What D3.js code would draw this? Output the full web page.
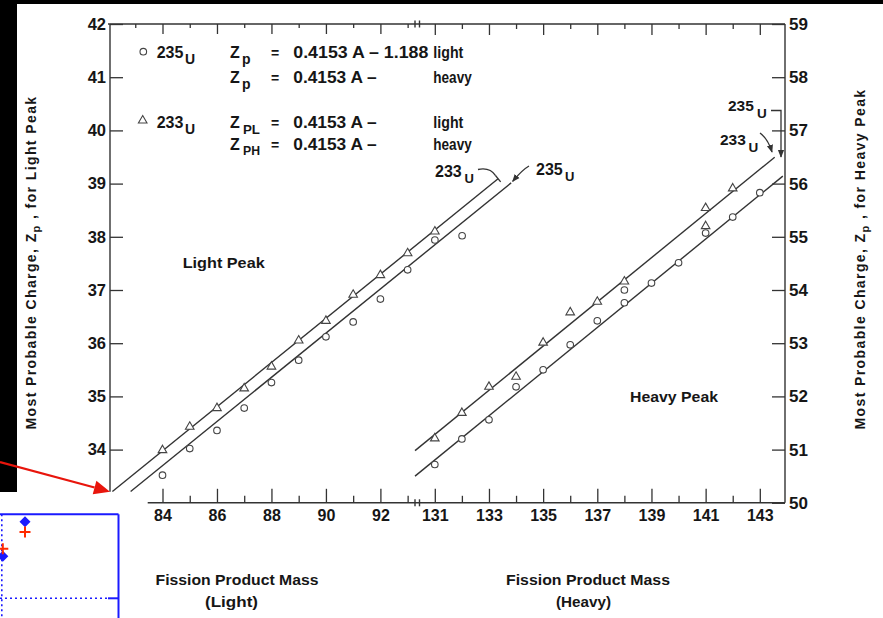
<!DOCTYPE html>
<html>
<head>
<meta charset="utf-8">
<script src="https://cdn.jsdelivr.net/npm/d3@7"></script>
<style>
  html, body { margin: 0; padding: 0; background: #fff; }
  svg { display: block; font-family: "Liberation Sans", Arial, Helvetica, sans-serif; }
</style>
</head>
<body>
<svg id="chart" width="883" height="618"></svg>
<script>
// Most probable charge Zp versus fission-product mass A
// Light peak, 233U (triangles) and 235U (circles)
const lightMass233 = [84, 85, 86, 87, 88, 89, 90, 91, 92, 93, 94];
const lightZ233    = [33.99, 34.43, 34.78, 35.15, 35.56, 36.05, 36.42, 36.91, 37.28, 37.69, 38.10];
const lightMass235 = [84, 85, 86, 87, 88, 89, 90, 91, 92, 93, 94, 95];
const lightZ235    = [33.52, 34.02, 34.36, 34.78, 35.26, 35.68, 36.12, 36.40, 36.83, 37.38, 37.94, 38.02];

// Heavy peak, 233U (triangles) and 235U (circles)
const heavyMass233 = [131, 132, 133, 134, 135, 136, 137, 138, 141, 141, 142];
const heavyZ233    = [51.21, 51.69, 52.18, 52.37, 53.01, 53.58, 53.78, 54.16, 55.54, 55.20, 55.91];
const heavyMass235 = [131, 132, 133, 134, 135, 136, 137, 138, 138, 139, 140, 141, 142, 143];
const heavyZ235    = [50.72, 51.20, 51.56, 52.18, 52.50, 52.97, 53.42, 53.76, 54.00, 54.13, 54.51, 55.07, 55.37, 55.83];

// Fitted lines Zp = fitSlope * A - offset
const fitSlope   = 0.4153;
const fitPeak    = ["light", "light", "heavy", "heavy"];
const fitOffsets = [0.91, 1.188, 3.12, 3.60];
const fitFromA   = [82.16, 82.83, 130.27, 130.27];
const fitToA     = [96.32, 96.80, 143.55, 143.85];

// Axis ticks
const lightMajorTicks = [84, 86, 88, 90, 92];
const lightMinorTicks = [85, 87, 89, 91, 93];
const lightTopMinor   = [83, 85, 87, 89, 91, 93];
const heavyMajorTicks = [131, 133, 135, 137, 139, 141, 143];
const heavyMinorTicks = [132, 134, 136, 138, 140, 142];
const leftTicks  = [34, 35, 36, 37, 38, 39, 40, 41, 42];
const rightTicks = [50, 51, 52, 53, 54, 55, 56, 57, 58, 59];

// Small blue/red panel in the lower-left corner
const insetDiamondX = [1, 0];
const insetDiamondY = [0.91, 0.50];
const insetCrossX   = [1, 0];
const insetCrossY   = [0.79, 0.59];

const ink = "#161616";
const lineInk = "#333";
const FONT = '"Liberation Sans", Arial, Helvetica, sans-serif';

const svg = d3.select("#chart");
svg.append("rect").attr("width", 883).attr("height", 618).attr("fill", "#fff");

const defs = svg.append("defs");
defs.append("marker").attr("id", "head")
  .attr("viewBox", "0 0 10 10").attr("refX", 9).attr("refY", 5)
  .attr("markerWidth", 6).attr("markerHeight", 6).attr("orient", "auto")
  .append("path").attr("d", "M0,1 L10,5 L0,9 Z").attr("fill", lineInk);

const xLight = d3.scaleLinear().domain([84, 92]).range([162.5, 380.4]);
const xHeavy = d3.scaleLinear().domain([131, 143]).range([434.8, 759.8]);
const yLight = d3.scaleLinear().domain([33, 42]).range([502.8, 24]);
const yHeavy = d3.scaleLinear().domain([50, 59]).range([502.8, 24]);

const frameLeft = 110, frameRight = 785;
const frameTop = yLight(42), frameBottom = yLight(33);
const leftFloor = yLight(33.21);
const bottomStart = 147.7, breakA = 415, breakB = 419.5;

// ---- frame lines
const frame = svg.append("g").attr("stroke", lineInk).attr("stroke-width", 1.4).attr("fill", "none");
frame.append("line").attr("x1", frameLeft).attr("x2", frameLeft).attr("y1", frameTop).attr("y2", leftFloor);
frame.append("line").attr("x1", frameLeft - 2).attr("x2", frameRight).attr("y1", frameTop).attr("y2", frameTop);
frame.append("line").attr("x1", frameRight).attr("x2", frameRight).attr("y1", frameTop).attr("y2", frameBottom);
frame.append("line").attr("x1", bottomStart).attr("x2", frameRight).attr("y1", frameBottom).attr("y2", frameBottom);
// axis break marks
[frameTop, frameBottom].forEach(y => {
  [breakA, breakB].forEach(x => {
    frame.append("line").attr("x1", x).attr("x2", x).attr("y1", y - 3.5).attr("y2", y + 3.5);
  });
});

function styleAxis(g, fontSize) {
  g.select(".domain").remove();
  g.attr("font-family", null).attr("font-size", null);
  g.selectAll("line").attr("stroke", lineInk).attr("stroke-width", 1.3);
  g.selectAll("text").attr("fill", ink).attr("font-family", FONT)
    .attr("font-size", fontSize).attr("font-weight", "bold");
  return g;
}

function bottomTicks(scale, values, y, size, labelled) {
  const ax = d3.axisBottom(scale).tickValues(values).tickSizeInner(size).tickSizeOuter(0).tickPadding(7);
  if (!labelled) ax.tickFormat("");
  return styleAxis(svg.append("g").attr("transform", `translate(0,${y})`).call(ax), 16);
}

// bottom axis (ticks point up into the plot)
bottomTicks(xLight, lightMajorTicks, frameBottom, -14, true);
bottomTicks(xLight, lightMinorTicks, frameBottom, -7, false);
bottomTicks(xHeavy, heavyMajorTicks, frameBottom, -14, true);
bottomTicks(xHeavy, heavyMinorTicks, frameBottom, -7, false);
// top axis (ticks point down)
bottomTicks(xLight, lightMajorTicks, frameTop, 10, false);
bottomTicks(xLight, lightTopMinor, frameTop, 4, false);
bottomTicks(xHeavy, heavyMajorTicks, frameTop, 11, false);
bottomTicks(xHeavy, heavyMinorTicks, frameTop, 5, false);

// left axis: ticks inward, labels outside
styleAxis(svg.append("g").attr("transform", `translate(${frameLeft},0)`)
  .call(d3.axisRight(yLight).tickValues(leftTicks).tickSizeInner(13).tickSizeOuter(0).tickFormat("")), 16);
styleAxis(svg.append("g").attr("transform", `translate(${frameLeft},0)`)
  .call(d3.axisLeft(yLight).tickValues(leftTicks).tickSize(0).tickPadding(4)), 16.5);

// right axis
styleAxis(svg.append("g").attr("transform", `translate(${frameRight},0)`)
  .call(d3.axisLeft(yHeavy).tickValues(rightTicks).tickSizeInner(13).tickSizeOuter(0).tickFormat("")), 16);
styleAxis(svg.append("g").attr("transform", `translate(${frameRight},0)`)
  .call(d3.axisRight(yHeavy).tickValues(rightTicks).tickSize(0).tickPadding(4)), 17);

// ---- fitted lines
const fitG = svg.append("g").attr("stroke", lineInk).attr("stroke-width", 1.4).attr("fill", "none");
fitOffsets.forEach((off, i) => {
  const xs = fitPeak[i] === "light" ? xLight : xHeavy;
  const ys = fitPeak[i] === "light" ? yLight : yHeavy;
  const line = d3.line().x(a => xs(a)).y(a => ys(fitSlope * a - off));
  fitG.append("path").attr("d", line([fitFromA[i], fitToA[i]]));
});

// ---- data points
const tri = d3.symbol(d3.symbolTriangle, 32);
function drawCircles(mass, z, xs, ys) {
  svg.append("g").selectAll("circle").data(d3.zip(mass, z)).join("circle")
    .attr("cx", d => xs(d[0])).attr("cy", d => ys(d[1])).attr("r", 3.3)
    .attr("fill", "#fff").attr("stroke", "#444").attr("stroke-width", 1.1);
}
function drawTriangles(mass, z, xs, ys) {
  svg.append("g").selectAll("path").data(d3.zip(mass, z)).join("path")
    .attr("d", tri).attr("transform", d => `translate(${xs(d[0])},${ys(d[1])})`)
    .attr("fill", "#fff").attr("stroke", "#444").attr("stroke-width", 1.1);
}
drawCircles(lightMass235, lightZ235, xLight, yLight);
drawTriangles(lightMass233, lightZ233, xLight, yLight);
drawCircles(heavyMass235, heavyZ235, xHeavy, yHeavy);
drawTriangles(heavyMass233, heavyZ233, xHeavy, yHeavy);

// ---- text helpers
function txt(x, y, s, size, opts = {}) {
  const t = svg.append("text").attr("x", x).attr("y", y).text(s)
    .attr("font-size", size).attr("font-weight", "bold").attr("fill", ink).attr("font-family", FONT);
  if (opts.anchor) t.attr("text-anchor", opts.anchor);
  if (opts.ls) t.attr("letter-spacing", opts.ls);
  if (opts.len) t.attr("textLength", opts.len).attr("lengthAdjust", "spacingAndGlyphs");
  return t;
}

// ---- legend
svg.append("circle").attr("cx", 143.3).attr("cy", 51.7).attr("r", 3.3)
  .attr("fill", "#fff").attr("stroke", "#444").attr("stroke-width", 1.1);
svg.append("path").attr("d", tri).attr("transform", "translate(142.7,120.5)")
  .attr("fill", "#fff").attr("stroke", "#444").attr("stroke-width", 1.1);

txt(156.7, 58.3, "235", 16);  txt(185, 63.8, "U", 14);
txt(156.7, 128.3, "233", 16); txt(185, 133.8, "U", 14);

const rows = [
  { y: 58.3,  sub: "p",  rhs: "0.4153 A \u2013 1.188", rhsLen: 135, tag: "light", tagLen: 30 },
  { y: 83.3,  sub: "p",  rhs: "0.4153 A \u2013",       rhsLen: 83.4, tag: "heavy", tagLen: 38.4 },
  { y: 128.3, sub: "PL", rhs: "0.4153 A \u2013",       rhsLen: 83.4, tag: "light", tagLen: 30 },
  { y: 150,   sub: "PH", rhs: "0.4153 A \u2013",       rhsLen: 83.4, tag: "heavy", tagLen: 38.4 }
];
rows.forEach(r => {
  txt(230, r.y, "Z", 16);
  if (r.sub === "p") txt(242, r.y + 5.2, "p", 14);
  else txt(243, r.y + 5.2, r.sub, 13, { len: 17 });
  txt(275, r.y, "=", 14, { anchor: "middle" });
  txt(293.3, r.y, r.rhs, 16, { len: r.rhsLen });
  txt(433.3, r.y, r.tag, 16, { len: r.tagLen });
});

// ---- peak labels
txt(182.7, 268, "Light Peak", 15, { len: 82 });
txt(630, 402, "Heavy Peak", 15, { len: 88 });

// ---- x-axis titles
txt(237, 585, "Fission Product Mass", 15.5, { anchor: "middle", len: 163 });
txt(231.5, 607, "(Light)", 15.5, { anchor: "middle", len: 53 });
txt(588, 585, "Fission Product Mass", 15.5, { anchor: "middle", len: 164 });
txt(583.5, 607, "(Heavy)", 15.5, { anchor: "middle", len: 55 });

// ---- y-axis titles (rotated)
function vTitle(cx, cy, tail, len) {
  const t = svg.append("text").attr("transform", `translate(${cx},${cy}) rotate(-90)`)
    .attr("text-anchor", "middle").attr("font-size", 14).attr("font-weight", "bold")
    .attr("fill", ink).attr("font-family", FONT).attr("letter-spacing", 1.4);
  t.append("tspan").text("Most Probable Charge, Z");
  t.append("tspan").attr("dy", 4).attr("font-size", 11).text("p");
  t.append("tspan").attr("dy", -4).text(" , " + tail);
  return t;
}
vTitle(36, 262.5, "for Light Peak");
vTitle(865, 259, "for Heavy Peak");

// ---- line-end annotations
const ann = svg.append("g").attr("stroke", lineInk).attr("stroke-width", 1.3).attr("fill", "none");
// light 233U
const lEnd233 = [xLight(fitToA[0]), yLight(fitSlope * fitToA[0] - fitOffsets[0])];
txt(435, 176.7, "233", 16); txt(464.5, 183.3, "U", 13);
ann.append("path").attr("d", `M478,169.5 Q490,167 ${lEnd233[0] - 2.5},${lEnd233[1] - 3}`);
ann.append("line").attr("x1", lEnd233[0] - 2.6).attr("y1", lEnd233[1] - 3.2)
  .attr("x2", lEnd233[0] + 2.6).attr("y2", lEnd233[1] + 3.2);
// light 235U
const lEnd235 = [xLight(fitToA[1]), yLight(fitSlope * fitToA[1] - fitOffsets[1])];
txt(536, 174.5, "235", 16); txt(565, 180.5, "U", 13);
ann.append("path").attr("d", `M529,166 Q522,170 ${lEnd235[0] + 1.5},${lEnd235[1] - 1.5}`)
  .attr("marker-end", "url(#head)");
// heavy 235U
txt(728, 110.7, "235", 15.5); txt(757, 118, "U", 13.5);
ann.append("path").attr("d", "M771,110.5 H781 V157").attr("marker-end", "url(#head)");
// heavy 233U
txt(720, 145, "233", 15.5); txt(748.5, 151.7, "U", 13.5);
ann.append("path").attr("d", "M760,133 Q768,139 772,152").attr("marker-end", "url(#head)");

// ---- surrounding dark margins
svg.append("rect").attr("x", 0).attr("y", 0).attr("width", 883).attr("height", 4).attr("fill", "#000");
svg.append("rect").attr("x", 0).attr("y", 0).attr("width", 17).attr("height", 492).attr("fill", "#000");

// ---- small inset panel (bottom-left corner)
const insetX = d3.scaleLinear().domain([0, 1]).range([2.8, 25]);
const insetY = d3.scaleLinear().domain([0, 1]).range([598.3, 514.3]);
const blue = "#1a1aff", red = "#ff2a00";
const inset = svg.append("g");
inset.append("line").attr("x1", 0).attr("x2", 118.5).attr("y1", insetY(1)).attr("y2", insetY(1))
  .attr("stroke", blue).attr("stroke-width", 2);
inset.append("line").attr("x1", 118.5).attr("x2", 118.5).attr("y1", insetY(1)).attr("y2", 618)
  .attr("stroke", blue).attr("stroke-width", 2);
inset.append("line").attr("x1", 1.8).attr("x2", 1.8).attr("y1", insetY(1)).attr("y2", 618)
  .attr("stroke", blue).attr("stroke-width", 1.6).attr("stroke-dasharray", "2,3");
inset.append("line").attr("x1", 0).attr("x2", 108).attr("y1", insetY(0)).attr("y2", insetY(0))
  .attr("stroke", blue).attr("stroke-width", 1.6).attr("stroke-dasharray", "2,3");
inset.append("line").attr("x1", 108).attr("x2", 118.5).attr("y1", insetY(0)).attr("y2", insetY(0))
  .attr("stroke", blue).attr("stroke-width", 2);
inset.selectAll("path.dia").data(d3.zip(insetDiamondX, insetDiamondY)).join("path")
  .attr("class", "dia").attr("d", "M0,-5.5L5.5,0L0,5.5L-5.5,0Z")
  .attr("transform", d => `translate(${insetX(d[0])},${insetY(d[1])})`).attr("fill", blue);
inset.selectAll("path.crs").data(d3.zip(insetCrossX, insetCrossY)).join("path")
  .attr("class", "crs").attr("d", "M-5.5,0H5.5M0,-5.5V5.5")
  .attr("transform", d => `translate(${insetX(d[0])},${insetY(d[1])})`)
  .attr("stroke", red).attr("stroke-width", 2).attr("fill", "none");

// ---- red pointer to the axis origin
const tip = [frameLeft, leftFloor];
const tail = [0, 462];
const len = Math.hypot(tip[0] - tail[0], tip[1] - tail[1]);
const ux = (tip[0] - tail[0]) / len, uy = (tip[1] - tail[1]) / len;
const headL = 16, headW = 7;
const base = [tip[0] - ux * headL, tip[1] - uy * headL];
svg.append("line").attr("x1", tail[0]).attr("y1", tail[1]).attr("x2", base[0]).attr("y2", base[1])
  .attr("stroke", "#e8150c").attr("stroke-width", 2.2);
svg.append("path").attr("d",
  `M${tip[0]},${tip[1]} L${base[0] - uy * headW},${base[1] + ux * headW} L${base[0] + uy * headW},${base[1] - ux * headW} Z`)
  .attr("fill", "#e8150c");
</script>
</body>
</html>
